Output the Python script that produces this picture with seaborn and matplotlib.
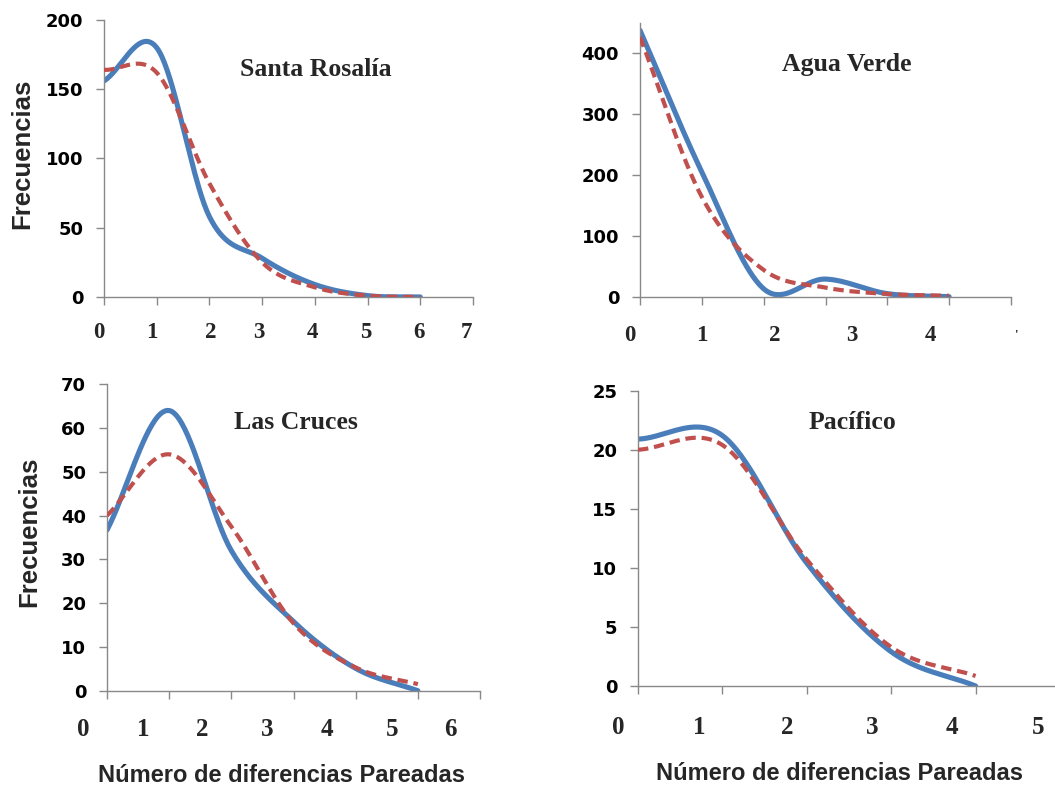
import numpy as np
import pandas as pd
import matplotlib
matplotlib.use("Agg")
import matplotlib.pyplot as plt
import seaborn as sns

# ---------------- data ----------------
titles = ["Santa Rosalía", "Agua Verde", "Las Cruces", "Pacífico"]

sr_obs = [156, 180, 58, 28, 9, 1, 0]
sr_exp = [164, 162, 82, 25, 7, 1, 0]

av_obs = [438, 205, 13, 29, 5, 0]
av_exp = [427, 164, 44, 15, 4.5, 1.5]

lc_obs = [36.7, 64, 32, 15.8, 5.1, 0]
lc_exp = [40, 54, 37.5, 15.4, 5.3, 1.5]

pa_obs = [20.9, 21.2, 10.4, 2.9, 0]
pa_exp = [20.0, 20.4, 10.7, 3.3, 0.85]

sr_yticks = [0, 50, 100, 150, 200]
av_yticks = [0, 100, 200, 300, 400]
lc_yticks = [0, 10, 20, 30, 40, 50, 60, 70]
pa_yticks = [0, 5, 10, 15, 20, 25]

sr_xlabels = ["0", "1", "2", "3", "4", "5", "6", "7"]
av_xlabels = ["0", "1", "2", "3", "4", "'"]
lc_xlabels = ["0", "1", "2", "3", "4", "5", "6"]
pa_xlabels = ["0", "1", "2", "3", "4", "5"]

ylabel = "Frecuencias"
xlabel = "Número de diferencias Pareadas"

# ---------------- layout ----------------
W, H = 1055, 787
BLUE = "#4A7EBB"
RED = "#C0504D"
GRAY = "#898989"


def smooth_line(y, n=40):
    """Excel-like smoothed line (cardinal spline) through points at x = 0..len(y)-1."""
    y = np.asarray(y, float)
    k = len(y)
    m = np.zeros(k)
    m[1:-1] = (y[2:] - y[:-2]) / 2.0
    m[0] = (y[1] - y[0])
    m[-1] = (y[-1] - y[-2])
    xs, ys = [], []
    for i in range(k - 1):
        t = np.linspace(0, 1, n, endpoint=(i == k - 2))
        h00 = 2 * t**3 - 3 * t**2 + 1
        h10 = t**3 - 2 * t**2 + t
        h01 = -2 * t**3 + 3 * t**2
        h11 = t**3 - t**2
        xs.append(i + t)
        ys.append(h00 * y[i] + h10 * m[i] + h01 * y[i + 1] + h11 * m[i + 1])
    return np.concatenate(xs), np.concatenate(ys)


sns.set_theme(style="white")
plt.rcParams["font.family"] = ["DejaVu Sans"]

fig = plt.figure(figsize=(W / 100, H / 100), dpi=100)


def px_axes(left, right, top, bottom):
    return fig.add_axes([left / W, 1 - bottom / H, (right - left) / W, (bottom - top) / H])


panels = [
    dict(obs=sr_obs, exp=sr_exp, xmax=7, ymax=200, yt=sr_yticks, xl=sr_xlabels,
         lpos=[-0.09, 0.91, 2.03, 2.94, 3.95, 4.97, 5.98, 6.87],
         box=(104, 473, 20, 297), ly=-0.128, lsize=16.5, tpos=(0.575, 0.823)),
    dict(obs=av_obs, exp=av_exp, xmax=6, ymax=450, yt=av_yticks, xl=av_xlabels,
         lpos=[-0.16, 1.0, 2.18, 3.43, 4.69, 6.07],
         box=(640, 1011, 23, 296.7), ly=-0.14, lsize=16.5, tpos=(0.558, 0.847)),
    dict(obs=lc_obs, exp=lc_exp, xmax=6, ymax=70, yt=lc_yticks, xl=lc_xlabels,
         lpos=[-0.39, 0.58, 1.53, 2.57, 3.54, 4.58, 5.53],
         box=(107, 480, 384.3, 690.7), ly=-0.128, lsize=18, tpos=(0.507, 0.874)),
    dict(obs=pa_obs, exp=pa_exp, xmax=5, ymax=25, yt=pa_yticks, xl=pa_xlabels,
         lpos=[-0.23, 0.73, 1.77, 2.78, 3.72, 4.74],
         box=(638, 1060, 390.7, 686), ly=-0.142, lsize=18, tpos=(0.507, 0.894)),
]

for p, title in zip(panels, titles):
    ax = px_axes(*p["box"])
    xo, yo = smooth_line(p["obs"])
    xe, ye = smooth_line(p["exp"])
    df_o = pd.DataFrame({"x": xo, "y": yo})
    df_e = pd.DataFrame({"x": xe, "y": ye})
    sns.lineplot(data=df_o, x="x", y="y", ax=ax, color=BLUE, lw=3.7,
                 estimator=None, errorbar=None, solid_capstyle="round", zorder=2)
    sns.lineplot(data=df_e, x="x", y="y", ax=ax, color=RED, lw=3.0,
                 estimator=None, errorbar=None, linestyle=(0, (2.5, 1.4)),
                 dash_capstyle="butt", zorder=3)
    ax.set_xlim(0, p["xmax"])
    ax.set_ylim(0, p["ymax"])
    ax.set_xticks(range(p["xmax"] + 1))
    ax.set_xticklabels([])
    ax.set_yticks(p["yt"])
    ax.set_yticklabels([str(v) for v in p["yt"]], fontsize=13, fontweight="bold",
                       family="DejaVu Sans")
    ax.set_xlabel("")
    ax.set_ylabel("")
    for s in ["top", "right"]:
        ax.spines[s].set_visible(False)
    for s in ["left", "bottom"]:
        ax.spines[s].set_color(GRAY)
        ax.spines[s].set_linewidth(1.0)
    ax.tick_params(axis="both", which="major", length=6, width=1.0, color=GRAY,
                   direction="out", bottom=True, left=True)
    ax.tick_params(axis="y", pad=9, labelcolor="black")
    ax.patch.set_visible(False)
    # category labels (pasted text labels)
    for lab, xp in zip(p["xl"], p["lpos"]):
        fs = p["lsize"] if lab != "'" else 9
        ax.text(xp, p["ly"], lab, transform=ax.get_xaxis_transform(),
                ha="center", va="center", fontsize=fs, fontweight="bold",
                family="Liberation Serif", clip_on=False)
    ax.text(p["tpos"][0], p["tpos"][1], title, transform=ax.transAxes,
            ha="center", va="center", fontsize=18.5, fontweight="bold",
            family="Liberation Serif")

# axis titles
fig.text(22 / W, 1 - 154 / H, ylabel, rotation=90, ha="center", va="center",
         fontsize=18.5, fontweight="bold", family="Liberation Sans")
fig.text(29 / W, 1 - 532 / H, ylabel, rotation=90, ha="center", va="center",
         fontsize=18.5, fontweight="bold", family="Liberation Sans")
fig.text(281 / W, 1 - 775 / H, xlabel, ha="center", va="center",
         fontsize=17, fontweight="bold", family="Liberation Sans")
fig.text(840 / W, 1 - 773 / H, xlabel, ha="center", va="center",
         fontsize=17, fontweight="bold", family="Liberation Sans")

fig.savefig("out.png", dpi=100, facecolor="white")
